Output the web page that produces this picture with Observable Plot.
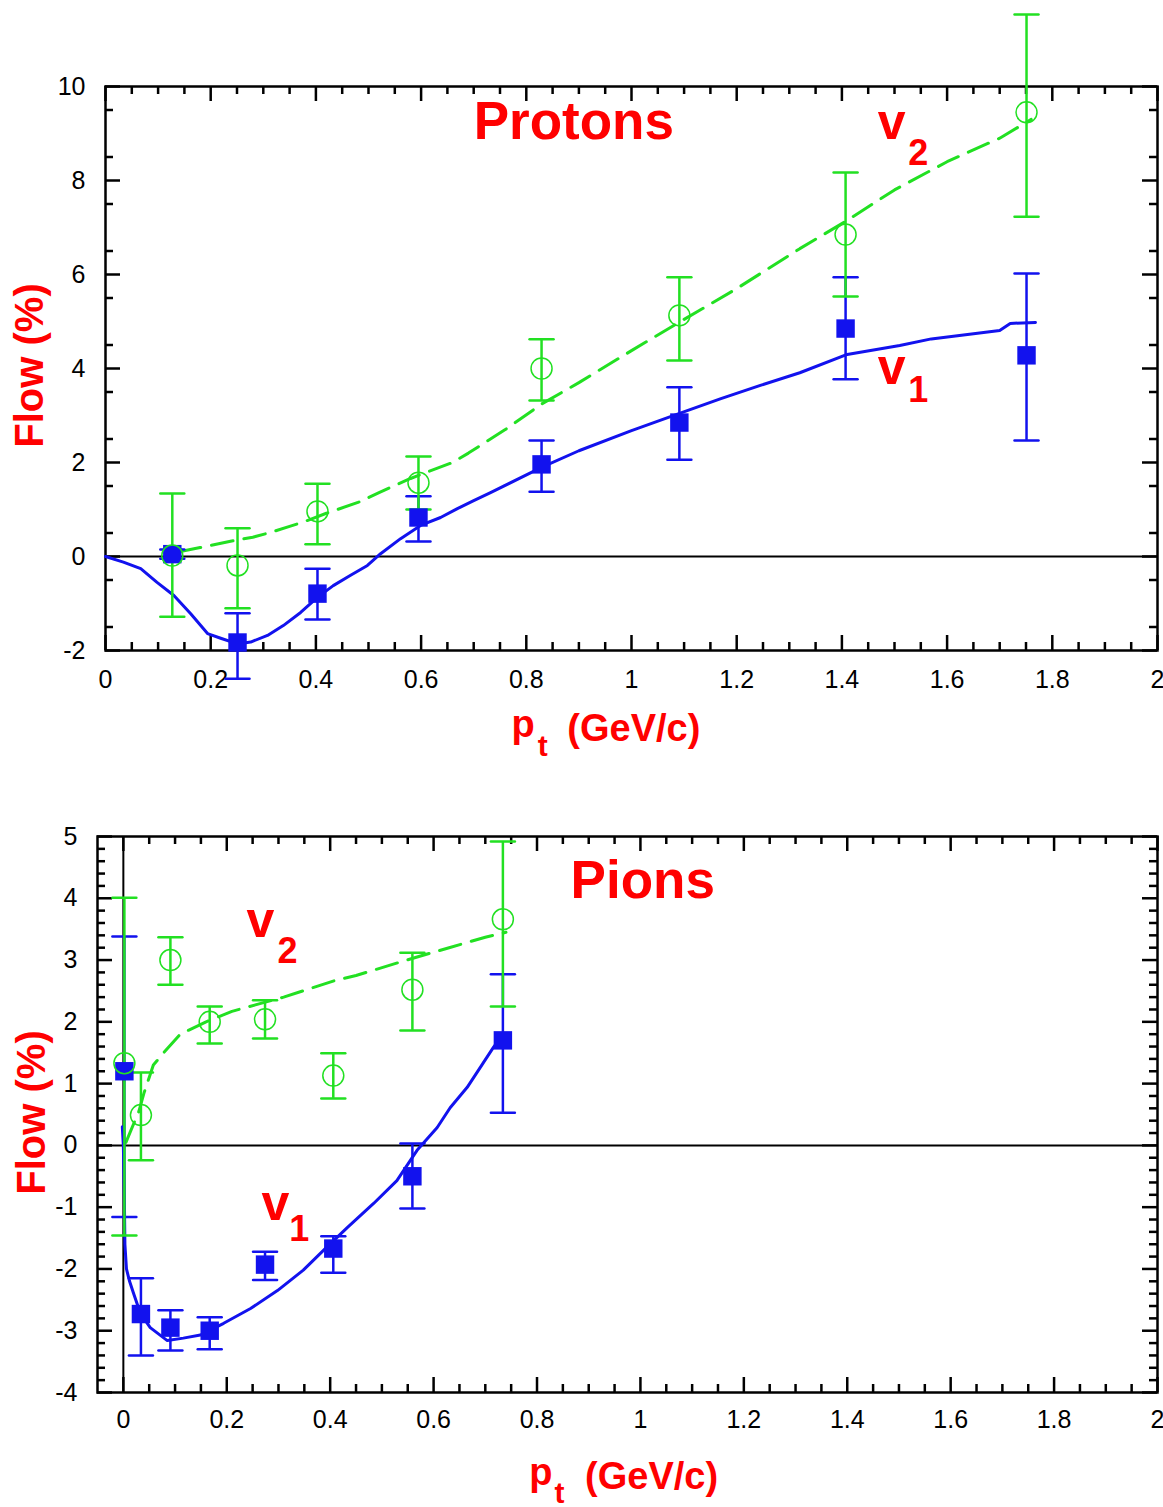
<!DOCTYPE html>
<html><head><meta charset="utf-8">
<script src="https://cdn.jsdelivr.net/npm/d3@7"></script>
<script src="https://cdn.jsdelivr.net/npm/@observablehq/plot@0.6"></script>
<style>
body{margin:0;background:#fff;}
#wrap{width:1163px;}
#wrap svg{display:block;}
</style></head><body><div id="wrap"></div>
<script>
const BLUE = "#1212ee", GREEN = "#22e022", RED = "#ff0000";
const FONT = "'Liberation Sans', Arial, Helvetica, sans-serif";

// ---------- Protons (top panel) ----------
const protonPt   = [0.127, 0.251, 0.403, 0.595, 0.829, 1.091, 1.407, 1.751];
const protonV1   = [0.05, -1.83, -0.79, 0.83, 1.96, 2.85, 4.85, 4.28];
const protonV1Hi = [0.15, -1.21, -0.26, 1.28, 2.47, 3.60, 5.94, 6.02];
const protonV1Lo = [-0.05, -2.60, -1.34, 0.32, 1.38, 2.06, 3.77, 2.47];
const protonV2   = [0.02, -0.19, 0.96, 1.57, 4.00, 5.13, 6.85, 9.45];
const protonV2Hi = [1.34, 0.60, 1.55, 2.13, 4.62, 5.94, 8.17, 11.53];
const protonV2Lo = [-1.28, -1.10, 0.26, 1.00, 3.32, 4.17, 5.53, 7.23];
// model curves
const protonV1CurveX = [0, 0.034, 0.067, 0.098, 0.13, 0.162, 0.194, 0.219, 0.251, 0.276, 0.308, 0.338, 0.371, 0.403, 0.433, 0.466, 0.498, 0.523, 0.561, 0.599, 0.637, 0.669, 0.70, 0.732, 0.83, 0.90, 1.0, 1.09, 1.17, 1.245, 1.32, 1.41, 1.51, 1.57, 1.70, 1.72, 1.768];
const protonV1CurveY = [0, -0.12, -0.26, -0.55, -0.83, -1.22, -1.64, -1.74, -1.86, -1.82, -1.68, -1.47, -1.19, -0.87, -0.62, -0.40, -0.19, 0.06, 0.38, 0.66, 0.83, 1.02, 1.19, 1.36, 1.90, 2.25, 2.68, 3.04, 3.36, 3.64, 3.91, 4.30, 4.49, 4.63, 4.81, 4.96, 4.98];
const protonV2CurveX = [0.14, 0.18, 0.24, 0.28, 0.31, 0.35, 0.38, 0.42, 0.48, 0.52, 0.58, 0.61, 0.66, 0.69, 0.76, 0.83, 0.90, 1.0, 1.09, 1.2, 1.32, 1.41, 1.5, 1.6, 1.7, 1.76];
const protonV2CurveY = [0.10, 0.19, 0.33, 0.41, 0.50, 0.64, 0.75, 0.92, 1.15, 1.36, 1.66, 1.79, 2.00, 2.20, 2.70, 3.25, 3.70, 4.38, 4.98, 5.70, 6.55, 7.15, 7.80, 8.40, 8.90, 9.30];

// ---------- Pions (bottom panel) ----------
const pionPt   = [0.002, 0.034, 0.091, 0.167, 0.274, 0.406, 0.559, 0.734];
const pionV1   = [1.20, -2.73, -2.95, -3.00, -1.93, -1.67, -0.50, 1.70];
const pionV1Hi = [3.38, -2.15, -2.67, -2.78, -1.72, -1.47, 0.03, 2.77];
const pionV1Lo = [-1.16, -3.40, -3.32, -3.30, -2.18, -2.06, -1.02, 0.53];
const pionV2   = [1.33, 0.49, 3.00, 2.00, 2.04, 1.13, 2.52, 3.66];
const pionV2Hi = [4.01, 1.18, 3.37, 2.25, 2.35, 1.49, 3.12, 4.92];
const pionV2Lo = [-1.46, -0.24, 2.60, 1.65, 1.73, 0.76, 1.86, 2.25];
const pionV1CurveX = [-0.002, 0.0, 0.002, 0.003, 0.006, 0.012, 0.02, 0.033, 0.052, 0.085, 0.116, 0.149, 0.194, 0.246, 0.298, 0.348, 0.387, 0.433, 0.484, 0.529, 0.568, 0.607, 0.632, 0.665, 0.716, 0.73];
const pionV1CurveY = [0.30, 0.0, -0.90, -1.60, -2.00, -2.20, -2.40, -2.72, -2.95, -3.16, -3.12, -3.07, -2.88, -2.64, -2.35, -2.02, -1.70, -1.33, -0.94, -0.57, -0.08, 0.29, 0.61, 0.94, 1.59, 1.75];
const pionV2CurveX = [0.005, 0.015, 0.03, 0.04, 0.05, 0.058, 0.078, 0.11, 0.16, 0.21, 0.31, 0.41, 0.45, 0.56, 0.63, 0.70, 0.74];
const pionV2CurveY = [0.05, 0.25, 0.55, 0.85, 1.10, 1.30, 1.50, 1.80, 2.00, 2.17, 2.40, 2.67, 2.75, 3.03, 3.20, 3.37, 3.45];

// ---------- tick labels ----------
const xTickLabels = [0, 0.2, 0.4, 0.6, 0.8, 1, 1.2, 1.4, 1.6, 1.8, 2];
const protonYTicks = [-2, 0, 2, 4, 6, 8, 10];
const pionYTicks = [-4, -3, -2, -1, 0, 1, 2, 3, 4, 5];

function zip(xs, ys, lo, hi) {
  return xs.map((x, i) => ({x, y: ys[i], lo: lo ? lo[i] : null, hi: hi ? hi[i] : null}));
}
const capShape = {draw(ctx, l) { ctx.moveTo(0, 0); ctx.lineTo(0, -l); }};

function errorMarks(data, color) {
  return [
    Plot.ruleX(data, {x: "x", y1: "lo", y2: "hi", stroke: color, strokeWidth: 2.5}),
    Plot.vector(data, {x: "x", y: "hi", length: 24, rotate: 90, anchor: "middle", shape: capShape, stroke: color, strokeWidth: 2.5}),
    Plot.vector(data, {x: "x", y: "lo", length: 24, rotate: 90, anchor: "middle", shape: capShape, stroke: color, strokeWidth: 2.5})
  ];
}

function panel(c) {
  const plotH = c.height - c.mt - c.mb, plotW = c.width - c.ml - c.mr;
  const tk = {stroke: "black", strokeWidth: 2.5};
  const txt = (t, o) => Plot.text([t], {fontFamily: FONT, fontWeight: "bold", fill: RED, textAnchor: "start", lineAnchor: "bottom", ...o});
  const v1 = zip(c.pt, c.v1, c.v1Lo, c.v1Hi);
  const v2 = zip(c.pt, c.v2, c.v2Lo, c.v2Hi);
  return Plot.plot({
    width: c.width, height: c.height,
    marginLeft: c.ml, marginRight: c.mr, marginTop: c.mt, marginBottom: c.mb,
    style: {fontFamily: FONT, background: "white", overflow: "visible"},
    x: {domain: c.xDomain},
    y: {domain: c.yDomain},
    marks: [
      Plot.ruleY([0], {stroke: "black", strokeWidth: 2}),
      ...(c.zeroX ? [Plot.ruleX([0], {stroke: "black", strokeWidth: 2})] : []),
      Plot.tickX(c.xMajor, {x: d => d, insetTop: plotH - 15, ...tk}),
      Plot.tickX(c.xMajor, {x: d => d, insetBottom: plotH - 15, ...tk}),
      Plot.tickX(c.xMinor, {x: d => d, insetTop: plotH - 8, ...tk}),
      Plot.tickX(c.xMinor, {x: d => d, insetBottom: plotH - 8, ...tk}),
      Plot.tickY(c.yMajor, {y: d => d, insetRight: plotW - 15, ...tk}),
      Plot.tickY(c.yMajor, {y: d => d, insetLeft: plotW - 15, ...tk}),
      Plot.tickY(c.yMinor, {y: d => d, insetRight: plotW - 8, ...tk}),
      Plot.tickY(c.yMinor, {y: d => d, insetLeft: plotW - 8, ...tk}),
      Plot.frame({stroke: "black", strokeWidth: 2.5}),
      Plot.axisX(xTickLabels, {tickSize: 0, tickPadding: c.xPad, fontSize: 25, tickFormat: d => String(d), label: null}),
      Plot.axisY(c.yMajor, {tickSize: 0, tickPadding: 20, fontSize: 25, tickFormat: d => String(d), label: null}),
      Plot.line(zip(c.c1x, c.c1y), {x: "x", y: "y", stroke: BLUE, strokeWidth: 3}),
      Plot.line(zip(c.c2x, c.c2y), {x: "x", y: "y", stroke: GREEN, strokeWidth: 3, strokeDasharray: "22,11"}),
      ...errorMarks(v1, BLUE),
      ...errorMarks(v2, GREEN),
      Plot.dot(v1, {x: "x", y: "y", symbol: "square", r: 10.4, fill: BLUE}),
      Plot.dot(v2, {x: "x", y: "y", r: 10.5, stroke: GREEN, strokeWidth: 1.5, fill: "none"}),
      ...c.labels.map(([t, o]) => txt(t, o))
    ]
  });
}

const wrap = document.getElementById("wrap");

wrap.appendChild(panel({
  width: 1163, height: 770, ml: 105, mr: 6, mt: 86, mb: 120, xPad: 20,
  xDomain: [0, 2], yDomain: [-2, 10],
  xMajor: xTickLabels, xMinor: d3.range(0.05, 2, 0.05).filter(v => Math.abs(v * 5 - Math.round(v * 5)) > 1e-6),
  yMajor: protonYTicks, yMinor: d3.range(-1.5, 10, 1).filter(v => v < 10),
  pt: protonPt, v1: protonV1, v1Lo: protonV1Lo, v1Hi: protonV1Hi, v2: protonV2, v2Lo: protonV2Lo, v2Hi: protonV2Hi,
  c1x: protonV1CurveX, c1y: protonV1CurveY, c2x: protonV2CurveX, c2y: protonV2CurveY,
  zeroX: false,
  labels: [
    ["Protons", {x: 0.70, y: 8.89, fontSize: 53}],
    ["v", {x: 1.468, y: 8.89, fontSize: 50}],
    ["2", {x: 1.526, y: 8.34, fontSize: 36}],
    ["v", {x: 1.468, y: 3.68, fontSize: 50}],
    ["1", {x: 1.526, y: 3.28, fontSize: 36}],
    ["p", {x: 0.772, frameAnchor: "bottom", dy: 86, fontSize: 38}],
    ["t", {x: 0.822, frameAnchor: "bottom", dy: 105, fontSize: 30}],
    ["(GeV/c)", {x: 0.878, frameAnchor: "bottom", dy: 90, fontSize: 38}],
    ["Flow (%)", {frameAnchor: "left", rotate: -90, dx: -63, dy: -3, textAnchor: "middle", fontSize: 40}]
  ]
}));

wrap.appendChild(panel({
  width: 1163, height: 737, ml: 97, mr: 6, mt: 66, mb: 115, xPad: 18,
  xDomain: [-0.05, 2], yDomain: [-4, 5],
  xMajor: xTickLabels, xMinor: d3.range(0.05, 2, 0.05).filter(v => Math.abs(v * 5 - Math.round(v * 5)) > 1e-6),
  yMajor: pionYTicks, yMinor: d3.range(-3.8, 5, 0.2).filter(v => Math.abs(v - Math.round(v)) > 1e-6),
  pt: pionPt, v1: pionV1, v1Lo: pionV1Lo, v1Hi: pionV1Hi, v2: pionV2, v2Lo: pionV2Lo, v2Hi: pionV2Hi,
  c1x: pionV1CurveX, c1y: pionV1CurveY, c2x: pionV2CurveX, c2y: pionV2CurveY,
  zeroX: true,
  labels: [
    ["Pions", {x: 0.865, y: 4.0, fontSize: 53}],
    ["v", {x: 0.238, y: 3.38, fontSize: 50}],
    ["2", {x: 0.298, y: 2.96, fontSize: 36}],
    ["v", {x: 0.267, y: -1.21, fontSize: 50}],
    ["1", {x: 0.321, y: -1.54, fontSize: 36}],
    ["p", {x: 0.785, frameAnchor: "bottom", dy: 92, fontSize: 38}],
    ["t", {x: 0.834, frameAnchor: "bottom", dy: 110, fontSize: 30}],
    ["(GeV/c)", {x: 0.893, frameAnchor: "bottom", dy: 96, fontSize: 38}],
    ["Flow (%)", {frameAnchor: "left", rotate: -90, dx: -53, dy: -2, textAnchor: "middle", fontSize: 40}]
  ]
}));
</script>
</body></html>
